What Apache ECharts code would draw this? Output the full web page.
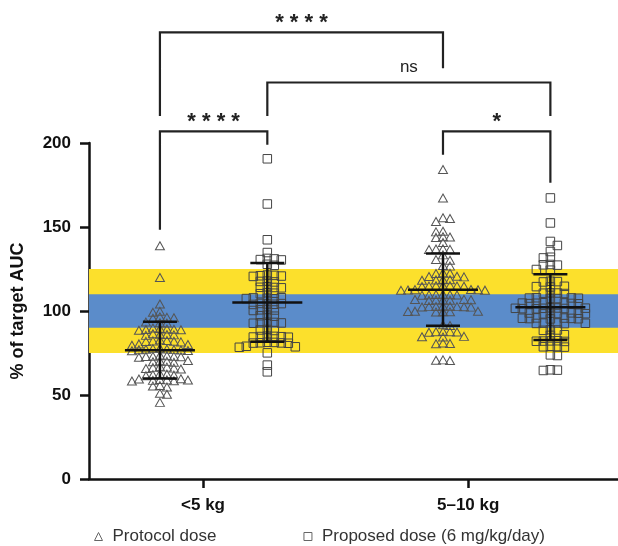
<!DOCTYPE html>
<html><head><meta charset="utf-8">
<script src="https://cdn.jsdelivr.net/npm/echarts@6/dist/echarts.min.js"></script>
<style>html,body{margin:0;padding:0;background:#fff}#c{width:618px;height:546px}</style>
</head><body><div id="c"></div>
<script>
const FONT = '"Liberation Sans", Arial, Helvetica, sans-serif';
const groupLabels = ['<5 kg', '5–10 kg'];
const tickPos = [1, 3];
const seriesNames = ['Protocol dose', 'Proposed dose (6 mg/kg/day)'];
// x position of each dot column: protocol <5, proposed <5, protocol 5-10, proposed 5-10
const groupX = [0.675, 1.485, 2.81, 3.62];
const yTicks = [0, 50, 100, 150, 200];

const protocolLt5 = [
  138.8, 119.9, 104.2,
  99.8, 99.2,
  96.5, 96.0, 95.7, 96.2,
  93.4, 92.8, 93.0,
  89.6, 89.0, 88.8, 89.3, 89.9, 88.5, 89.1,
  86.2, 85.8, 86.5, 85.5, 86.0,
  82.4, 81.9, 82.2, 81.6, 82.8, 82.0,
  80.1, 79.6, 80.4,
  77.3, 76.8, 77.0, 76.5, 77.6, 76.9, 77.2, 76.3, 77.8,
  73.4, 72.8, 73.1, 72.5, 73.7, 73.0, 72.9,
  70.2, 69.8, 70.5, 69.5, 70.0,
  66.3, 65.8, 66.6, 65.5, 66.0, 66.9,
  62.4, 61.8, 62.1, 61.5, 62.7,
  59.2, 58.7, 59.0, 58.5, 59.5, 58.9, 58.3, 59.7,
  55.3, 54.8, 55.6,
  51.0, 50.4,
  45.6
];
const proposedLt5 = [
  190.6, 163.7, 142.4, 134.8,
  131.0, 130.4, 131.3, 130.6,
  127.8, 127.2,
  121.2, 120.6, 121.0, 120.8, 121.4,
  117.8, 117.3, 117.6,
  114.4, 113.8, 114.1, 114.0,
  110.9, 110.3, 110.6,
  107.9, 107.3, 107.6, 107.8, 107.4,
  104.5, 103.9, 104.2, 104.0, 104.4,
  100.9, 100.3, 100.6, 100.7,
  97.5, 96.9, 97.2,
  93.3, 92.7, 93.0, 92.9, 93.2,
  89.0, 88.4, 88.7,
  85.0, 84.4, 84.7, 84.5, 84.9, 84.8,
  81.4, 80.8, 81.1, 81.0, 81.3, 80.9,
  79.0, 78.4, 78.7,
  75.1, 67.8, 63.8
];
const protocol5to10 = [
  184.2, 167.3,
  155.5, 155.1, 153.3,
  147.5, 147.1,
  144.2, 143.8, 144.0,
  140.8,
  137.0, 136.6, 136.9, 136.7,
  133.4,
  130.6, 130.2,
  127.1, 126.7,
  122.7, 122.3, 122.5,
  120.7, 120.3, 120.5,
  118.7, 118.3, 118.5, 118.6,
  115.1, 114.7, 114.9, 115.0, 114.8, 115.2, 114.6,
  112.7, 112.3, 112.5, 112.6, 112.4, 112.8,
  109.8, 109.4, 109.6, 109.7, 109.5, 109.9,
  106.8, 106.4, 106.6, 106.7, 106.5, 106.9, 106.3,
  102.8, 102.4, 102.6, 102.7, 102.5, 102.9, 102.3, 102.6,
  99.8, 99.4, 99.6, 99.7, 99.5, 99.9,
  91.8, 91.4,
  87.8, 87.4, 87.6, 87.7, 87.5,
  84.9, 84.5, 84.7,
  80.9, 80.5, 80.7,
  70.9, 70.5, 70.7
];
const proposed5to10 = [
  167.3, 152.4, 141.4, 139.0, 135.4,
  132.0, 131.6,
  127.7, 127.3, 127.5,
  124.7, 124.3,
  117.7, 117.3, 117.5,
  114.7, 114.3, 114.5,
  110.8, 110.4, 110.6, 110.7,
  107.8, 107.4, 107.6, 107.7, 107.5, 107.9,
  104.8, 104.4, 104.6, 104.7, 104.5, 104.9, 104.3,
  101.8, 101.4, 101.6, 101.7, 101.5, 101.9, 101.3, 101.6,
  98.8, 98.4, 98.6, 98.7, 98.5, 98.9, 98.3,
  95.8, 95.4, 95.6, 95.7, 95.5, 95.9, 95.3,
  92.9, 92.5, 92.7, 92.8, 92.6,
  88.9, 88.5, 88.7,
  85.9, 85.5,
  82.3, 81.9, 82.1, 82.2, 82.0,
  78.9, 78.5, 78.7, 78.8,
  73.9, 73.5,
  65.0, 64.6, 64.8
];
const groupValues = [protocolLt5, proposedLt5, protocol5to10, proposed5to10];

// mean and SD
const means = [76.7, 105.1, 112.7, 102.3];
const sds = [16.9, 23.4, 21.5, 19.6];

const bandOuter = [75, 125];
const bandInner = [90, 110];

// significance brackets: left group, right group, top, left end, right end, label
const bracketFrom = [0, 1, 0, 2];
const bracketTo = [2, 3, 1, 3];
const bracketTop = [265.8, 236.0, 206.9, 206.9];
const bracketLeftEnd = [216.0, 216.0, 148.4, 193.0];
const bracketRightEnd = [244.5, 216.0, 199.0, 176.4];
const bracketLabels = ['* * * *', 'ns', '* * * *', '*'];

const chart = echarts.init(document.getElementById('c'), null, {renderer: 'canvas'});

function swarm(values, cx, pxX, pxY, w, h) {
  const order = values.map((v, i) => i).sort((a, b) => values[b] - values[a]);
  const placed = [];
  const out = new Array(values.length);
  order.forEach((i, k) => {
    const y = values[i] * pxY;
    let best = null;
    for (let d = 0; d <= 100 && best === null; d += 0.5) {
      const cands = d === 0 ? [0] : (k % 2 ? [d, -d] : [-d, d]);
      for (const o of cands) {
        if (!placed.some(p => Math.abs(p.x - o) < w && Math.abs(p.y - y) < h)) { best = o; break; }
      }
    }
    placed.push({x: best, y});
    out[i] = [cx + best / pxX, values[i]];
  });
  return out;
}

const baseOption = {
  animation: false,
  backgroundColor: '#fff',
  grid: {left: 89, right: 0, top: 143, bottom: 67, containLabel: false},
  xAxis: {
    type: 'value', min: 0.14, max: 4.13,
    axisLine: {show: true, lineStyle: {color: '#111', width: 2.5}},
    axisTick: {show: true, customValues: tickPos, length: 9, lineStyle: {color: '#111', width: 2.5}},
    axisLabel: {show: true, customValues: tickPos, margin: 18,
      formatter: v => groupLabels[tickPos.indexOf(Math.round(v))] || '',
      fontFamily: FONT, fontSize: 17, fontWeight: 'bold', color: '#111'},
    splitLine: {show: false}
  },
  yAxis: {
    type: 'value', min: 0, max: 200, interval: 50,
    name: '% of target AUC', nameLocation: 'middle', nameGap: 62,
    nameTextStyle: {fontFamily: FONT, fontSize: 18, fontWeight: 'bold', color: '#111'},
    axisLine: {show: true, lineStyle: {color: '#111', width: 2.5}},
    axisTick: {show: true, length: 9, lineStyle: {color: '#111', width: 2.5}},
    axisLabel: {margin: 18, fontFamily: FONT, fontSize: 17, fontWeight: 'bold', color: '#111'},
    splitLine: {show: false}
  },
  legend: {
    left: 89, top: 523, itemGap: 87, itemWidth: 8, itemHeight: 8,
    textStyle: {fontFamily: FONT, fontSize: 17, color: '#333', padding: [0, 0, 0, 5]},
    data: [
      {name: seriesNames[0], icon: 'triangle', itemStyle: {color: 'rgba(0,0,0,0)', borderColor: '#666', borderWidth: 1}},
      {name: seriesNames[1], icon: 'rect', itemStyle: {color: 'rgba(0,0,0,0)', borderColor: '#666', borderWidth: 1}}
    ]
  },
  series: []
};

chart.setOption(baseOption);
const p0 = chart.convertToPixel({gridIndex: 0}, [1, 0]);
const p1 = chart.convertToPixel({gridIndex: 0}, [2, 100]);
const pxX = Math.abs(p1[0] - p0[0]);
const pxY = Math.abs(p1[1] - p0[1]) / 100;

const pts = groupValues.map((vals, g) => swarm(vals, groupX[g], pxX, pxY, 6.6, 5.4));

const errData = groupX.map((x, i) => [x, means[i], sds[i]]);
const bracketData = bracketFrom.map((f, i) => [groupX[f], groupX[bracketTo[i]], bracketTop[i], bracketLeftEnd[i], bracketRightEnd[i]]);

chart.setOption({
  series: [
    {
      type: 'line', data: [], silent: true, z: 0,
      markArea: {
        silent: true,
        data: [
          [{yAxis: bandOuter[0], itemStyle: {color: '#FCE02C'}}, {yAxis: bandOuter[1]}],
          [{yAxis: bandInner[0], itemStyle: {color: '#5B8CCA'}}, {yAxis: bandInner[1]}]
        ]
      }
    },
    {
      name: seriesNames[0], type: 'scatter', z: 3, symbol: 'triangle', symbolSize: [9, 8],
      itemStyle: {color: 'rgba(0,0,0,0)', borderColor: '#555', borderWidth: 1, opacity: 1},
      data: pts[0].concat(pts[2])
    },
    {
      name: seriesNames[1], type: 'scatter', z: 3, symbol: 'rect', symbolSize: 8.5,
      itemStyle: {color: 'rgba(0,0,0,0)', borderColor: '#444', borderWidth: 1, opacity: 1},
      data: pts[1].concat(pts[3])
    },
    {
      type: 'custom', z: 5, silent: true, data: errData,
      renderItem: (params, api) => {
        const x = api.value(0), m = api.value(1), s = api.value(2);
        const c = api.coord([x, m]);
        const t = api.coord([x, m + s]);
        const b = api.coord([x, m - s]);
        const st = {stroke: '#111', lineWidth: 2.5};
        return {type: 'group', children: [
          {type: 'line', shape: {x1: c[0], y1: t[1], x2: c[0], y2: b[1]}, style: st},
          {type: 'line', shape: {x1: c[0] - 35, y1: c[1], x2: c[0] + 35, y2: c[1]}, style: st},
          {type: 'line', shape: {x1: c[0] - 17, y1: t[1], x2: c[0] + 17, y2: t[1]}, style: st},
          {type: 'line', shape: {x1: c[0] - 17, y1: b[1], x2: c[0] + 17, y2: b[1]}, style: st}
        ]};
      }
    },
    {
      type: 'custom', z: 5, silent: true, clip: false, data: bracketData,
      renderItem: (params, api) => {
        const x1 = api.value(0), x2 = api.value(1), top = api.value(2), yl = api.value(3), yr = api.value(4);
        const a = api.coord([x1, yl]);
        const b = api.coord([x1, top]);
        const c = api.coord([x2, top]);
        const d = api.coord([x2, yr]);
        const label = bracketLabels[params.dataIndex];
        const isStar = label.indexOf('*') >= 0;
        return {type: 'group', children: [
          {type: 'polyline', shape: {points: [a, b, c, d]}, style: {stroke: '#222', lineWidth: 2.2, fill: null}},
          {type: 'text', x: (b[0] + c[0]) / 2, y: b[1] + (isStar ? 1.5 : -7),
            style: {text: label, fill: '#222', align: 'center', verticalAlign: 'bottom',
              font: isStar ? 'bold 22px ' + FONT : '17px ' + FONT}}
        ]};
      }
    }
  ]
});
</script></body></html>
